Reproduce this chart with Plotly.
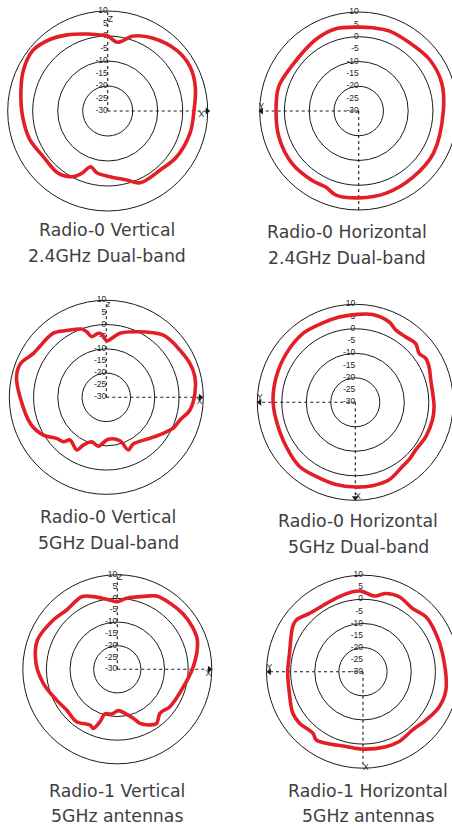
import plotly.graph_objects as go

W, H = 452, 829          # visible window
FW = 472                 # figure width (right-hand circles run past the window edge)

# ---------------- data (dB vs angle in degrees, 0 = +X / right, counterclockwise) -------------
p1_theta = [0, 15, 28, 41, 58, 71, 82, 90, 96, 105, 118, 129, 141, 154, 168, 184, 200, 215,
            231.6, 241.3, 247.4, 253, 260, 272, 285.4, 294.3, 312, 326, 345]
p1_r = [4.5, 6.3, 7.4, 6.8, 4.3, 1.7, -2.2, 0.0, 0.6, 1.9, 4.5, 6.8, 8.5, 7.5, 5.5, 4.1, 3.2, 1.6,
        1.8, 0.0, -3.0, -6.7, -4.9, -3.7, -1.4, 1.5, 1.6, 3.1, 4.1]

p2_theta = [0, 18.6, 35.8, 53.2, 68.9, 80.4, 90, 105.5, 121, 146, 163, 180, 198, 218.4,
            236.3, 246.6, 254.9, 270, 288.5, 309.4, 330.2]
p2_r = [4.2, 5.4, 5.4, 4.4, 4.6, 4.1, 3.9, 4.5, 3.7, 2.6, 3.8, 3.4, 3.9, 4.3,
        3.8, 3.5, 5.2, 5.1, 5.0, 4.6, 4.7]

p3_theta = [2.6, 13.1, 22.1, 35.7, 47.5, 65.1, 77.9, 84.8, 89.6, 94.2, 97.1, 103.5, 106.6, 109.8,
            120.7, 129.6, 148.9, 158.5, 167, 179.6, 200, 210.9, 219.6, 225.9, 229.6, 240.7,
            244.3, 251.8, 260.7, 272.7, 287.5, 292.7, 300, 316.8, 327.7, 335.2, 342.9, 351.4]
p3_r = [6.6, 7.5, 7.2, 5.8, 4.8, -0.2, -3.0, -5.6, -6.7, -3.9, -3.4, -4.3, -1.8, -0.1,
        2.0, 4.3, 5.1, 8.0, 8.0, 5.6, 3.0, 0.3, -3.4, -4.5, -6.9, -5.1,
        -8.1, -10.7, -9.6, -12.7, -11.2, -6.5, -7.8, -5.3, -2.2, 0.4, 1.8, 4.9]

p4_theta = [16.4, 25.7, 31.9, 37.4, 44.2, 52.3, 60.6, 67.1, 78.9, 90, 100.6, 112.3, 127.4, 144.8,
            162.1, 178.4, 192.6, 212.6, 229, 242.1, 256.8, 270, 281.7, 293.6, 306.3, 313.1,
            321.8, 334.1, 347.1, 356.9]
p4_r = [2.1, 3.4, 3.9, 2.8, 4.4, 3.7, 3.8, 5.6, 6.5, 5.8, 5.4, 5.0, 5.3, 4.5,
        3.9, 3.6, 3.1, 3.5, 4.7, 4.2, 4.5, 4.6, 4.75, 4.5, 2.5, 2.1,
        1.4, 2.0, 2.3, 2.2]

p5_theta = [2, 19.5, 29.3, 40.3, 51.4, 61.7, 68.1, 82.5, 90.5, 98.6, 108.3, 116.1, 130.5, 142.4,
            160, 175.8, 190.7, 206.9, 218.8, 232.2, 243.9, 247.9, 251.7, 254.6, 262.9, 271.4,
            279.9, 288.1, 292.8, 300.4, 306.1, 314.1, 324.6, 341.7]
p5_r = [2.2, 6.0, 6.5, 6.4, 5.8, 5.2, 3.4, 0.3, -1.4, 0.0, 2.4, 4.2, 3.0, 4.2,
        6.0, 4.5, 1.9, -1.2, -2.5, -1.9, -3.75, -3.0, -6.6, -10.4, -10.9, -12.5,
        -11.1, -8.2, -5.2, -2.7, -1.7, -4.05, -2.7, -1.5]

p6_theta = [13, 27.7, 41.1, 51.9, 64.2, 73.6, 81.5, 91.4, 97.4, 107.5, 118.4, 132.6, 142.4, 147.4,
            166, 180, 196.4, 210.6, 219.1, 230.8, 235.5, 242.7, 257.2, 270, 287, 297.4,
            310.4, 322.5, 335.4, 347.5]
p6_r = [3.8, 4.1, 4.6, 3.3, 4.5, 3.8, 1.7, 3.4, 3.4, 2.6, 2.1, 2.8, 5.0, 4.6,
        1.4, 1.2, 1.8, 3.8, 3.9, 2.9, 4.3, 3.4, 1.8, 2.1, 2.5, 2.6,
        1.7, 2.9, 4.8, 5.2]

radial_range = [-30, 10]
ring_levels = [-20, -10, 0, 10]
tick_vals = [10, 5, 0, -5, -10, -15, -20, -25, -30]
tick_text = ["10", "5", "0", "-5", "-10", "-15", "-20", "-25", "-30"]

titles = [
    ["Radio-0 Vertical", "2.4GHz Dual-band"],
    ["Radio-0 Horizontal", "2.4GHz Dual-band"],
    ["Radio-0 Vertical", "5GHz Dual-band"],
    ["Radio-0 Horizontal", "5GHz Dual-band"],
    ["Radio-1 Vertical", "5GHz antennas"],
    ["Radio-1 Horizontal", "5GHz antennas"],
]

# ---------------- layout / style (pixel geometry) ----------------
geom = [(107.7, 111, 100), (358.7, 111, 99), (106.3, 397.3, 97),
        (355.3, 402.3, 98), (117.3, 669.3, 94.5), (363, 671.7, 96.5)]
title_pos = [(107, 230, 256), (347, 232, 258), (108, 517, 543),
             (358, 521, 547), (117, 791, 816), (368, 791, 816)]

axes_def = [
    [(90, 11.6, "triangle-up"), (0, 9.8, "triangle-right")],
    [(180, 9.3, "triangle-left"), (270, 11.0, "triangle-down")],
    [(90, 11.4, "triangle-up"), (0, 8.8, "triangle-right")],
    [(180, 9.0, "triangle-left"), (270, 9.0, "triangle-down")],
    [(90, 11.0, "triangle-up"), (0, 9.0, "triangle-right")],
    [(180, 8.8, "triangle-left"), (270, 10.7, "triangle-down")],
]
letters = [
    [("Z", 90, 6.5, "middle right"), ("X", 0, 7.5, "bottom center")],
    [("Y", 180, 9.3, "top center"), ("X", 270, 10.5, "middle right")],
    [("z", 90, 8.0, "middle right"), ("X", 0, 8.5, "bottom center")],
    [("Y", 180, 9.0, "top center"), ("X", 270, 8.8, "middle right")],
    [("Z", 90, 8.5, "middle right"), ("X", 0, 8.5, "bottom center")],
    [("Y", 180, 8.8, "top center"), ("X", 270, 10.0, "middle right")],
]

data = [(p1_theta, p1_r), (p2_theta, p2_r), (p3_theta, p3_r),
        (p4_theta, p4_r), (p5_theta, p5_r), (p6_theta, p6_r)]

RED = "#e41e26"
INK = "#1a1a1a"
TXT = "#404040"
TICK = "#262626"

fig = go.Figure()
layout = dict(width=FW, height=H, margin=dict(l=0, r=0, t=0, b=0),
              paper_bgcolor="white", plot_bgcolor="white", showlegend=False)
annotations = []

for i in range(6):
    sp = "polar" if i == 0 else f"polar{i+1}"
    cx, cy, R = geom[i]
    layout[sp] = dict(
        domain=dict(x=[(cx - R) / FW, (cx + R) / FW], y=[1 - (cy + R) / H, 1 - (cy - R) / H]),
        bgcolor="white",
        radialaxis=dict(range=radial_range, tickvals=ring_levels, showticklabels=False,
                        showline=False, ticks="", gridcolor=INK, gridwidth=1, angle=90),
        angularaxis=dict(rotation=0, direction="counterclockwise", showline=True,
                         linecolor=INK, linewidth=1, showgrid=False, showticklabels=False,
                         ticks=""),
    )
    th, rr = data[i]
    for (ath, rend, sym) in axes_def[i]:
        fig.add_trace(go.Scatterpolar(r=[radial_range[0], rend], theta=[ath, ath], mode="lines",
                                      line=dict(color=INK, width=1.1, dash="3px,3px"),
                                      subplot=sp, cliponaxis=False, hoverinfo="skip"))
        fig.add_trace(go.Scatterpolar(r=[rend], theta=[ath], mode="markers",
                                      marker=dict(symbol=sym, size=6, color=INK),
                                      subplot=sp, cliponaxis=False, hoverinfo="skip"))
    fig.add_trace(go.Scatterpolar(r=tick_vals, theta=[90] * len(tick_vals), mode="text",
                                  text=tick_text, textposition="middle left",
                                  textfont=dict(size=8.5, color=TICK, family="Liberation Sans"),
                                  subplot=sp, cliponaxis=False, hoverinfo="skip"))
    for (t, lth, lr, pos) in letters[i]:
        fig.add_trace(go.Scatterpolar(r=[lr], theta=[lth], mode="text", text=[t],
                                      textposition=pos,
                                      textfont=dict(size=8.5, color=TICK, family="Liberation Sans"),
                                      subplot=sp, cliponaxis=False, hoverinfo="skip"))
    fig.add_trace(go.Scatterpolar(r=list(rr) + [rr[0]], theta=list(th) + [th[0]],
                                  mode="lines", line=dict(color=RED, width=3.6, shape="spline",
                                                          smoothing=1.0),
                                  subplot=sp, cliponaxis=False))
    tx, ty1, ty2 = title_pos[i]
    for txt, ty in zip(titles[i], (ty1, ty2)):
        annotations.append(dict(text=txt, x=tx / FW, y=1 - ty / H, xref="paper", yref="paper",
                                xanchor="center", yanchor="middle", showarrow=False,
                                font=dict(size=17.3, color=TXT, family="DejaVu Sans")))

layout["annotations"] = annotations
fig.update_layout(**layout)
fig.write_html("out.html", config={"displayModeBar": False},
               post_script="document.body.style.margin='0';document.body.style.overflow='hidden';")
